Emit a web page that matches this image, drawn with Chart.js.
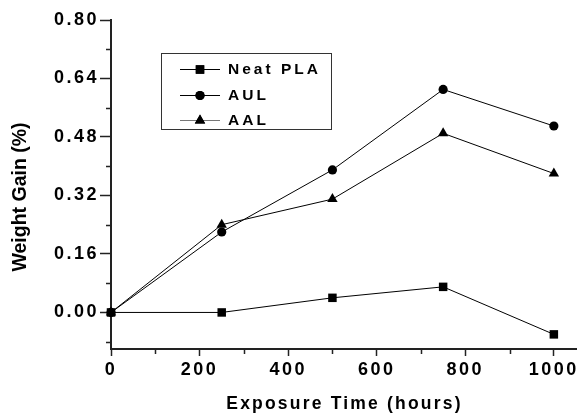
<!DOCTYPE html>
<html>
<head>
<meta charset="utf-8">
<script src="https://cdn.jsdelivr.net/npm/chart.js@4/dist/chart.umd.min.js"></script>
<style>
  html, body { margin: 0; padding: 0; background: #fff; }
  #wrap { width: 582px; height: 419px; position: relative; }
</style>
</head>
<body>
<div id="wrap"><canvas id="c" width="582" height="419"></canvas></div>
<script>
// Exposure time (hours) and weight gain (%) for each material
const hours   = [0, 250, 500, 750, 1000];
const neatPla = [0, 0, 0.04, 0.07, -0.06];
const aul     = [0, 0.22, 0.39, 0.61, 0.51];
const aal     = [0, 0.24, 0.31, 0.49, 0.38];

const seriesNames = ['Neat PLA', 'AUL', 'AAL'];
const xTicks = [0, 100, 200, 300, 400, 500, 600, 700, 800, 900, 1000];
const xLabelTicks = [0, 200, 400, 600, 800, 1000];
const yTicks = [-0.08, 0, 0.08, 0.16, 0.24, 0.32, 0.40, 0.48, 0.56, 0.64, 0.72, 0.80];
const yLabelTicks = [0, 0.16, 0.32, 0.48, 0.64, 0.80];
const xTitle = 'Exposure Time (hours)';
const yTitle = 'Weight Gain (%)';

const AXIS = '#222';
const FONT = '"Liberation Sans", Arial, sans-serif';

const isLabelled = (list, v) => list.some(t => Math.abs(t - v) < 1e-6);

function pts(vals) { return hours.map((h, i) => ({ x: h, y: vals[i] })); }

// Minor ticks, axis titles and the framed legend
const decorations = {
  id: 'decorations',
  beforeDraw(chart) {
    chart.ctx.letterSpacing = '2.5px';
  },
  afterDraw(chart) {
    const ctx = chart.ctx;
    const xs = chart.scales.x, ys = chart.scales.y;
    const area = chart.chartArea;
    ctx.save();
    ctx.letterSpacing = '0px';
    ctx.strokeStyle = AXIS;
    ctx.lineWidth = 1.5;
    // minor ticks
    ctx.beginPath();
    yTicks.forEach(v => {
      if (isLabelled(yLabelTicks, v)) return;
      const py = Math.round(ys.getPixelForValue(v)) + 0.5;
      ctx.moveTo(area.left - 5, py);
      ctx.lineTo(area.left, py);
    });
    xTicks.forEach(v => {
      if (isLabelled(xLabelTicks, v)) return;
      const px = Math.round(xs.getPixelForValue(v)) + 0.5;
      ctx.moveTo(px, area.bottom);
      ctx.lineTo(px, area.bottom + 5);
    });
    ctx.stroke();

    // axis titles
    ctx.fillStyle = '#000';
    ctx.font = 'bold 17.5px ' + FONT;
    ctx.letterSpacing = '2.2px';
    ctx.textAlign = 'center';
    ctx.textBaseline = 'alphabetic';
    ctx.fillText(xTitle, (area.left + area.right) / 2 + 1, 409);

    ctx.save();
    ctx.translate(21, 197);
    ctx.rotate(-Math.PI / 2);
    ctx.letterSpacing = '0px';
    ctx.font = 'bold 19.5px ' + FONT;
    ctx.textBaseline = 'middle';
    ctx.fillText(yTitle, 0, 0);
    ctx.restore();

    // legend box
    const bx = 161, by = 53, bw = 170, bh = 76;
    ctx.lineWidth = 1;
    ctx.strokeStyle = '#333';
    ctx.strokeRect(bx + 0.5, by + 0.5, bw, bh);
    const rowY = [69, 95, 120];
    ctx.font = 'bold 15.5px ' + FONT;
    ctx.letterSpacing = '3px';
    ctx.textAlign = 'left';
    ctx.textBaseline = 'middle';
    chart.data.datasets.forEach((ds, i) => {
      const y = rowY[i];
      ctx.strokeStyle = ds.legendLineColor;
      ctx.lineWidth = 1;
      ctx.beginPath();
      ctx.moveTo(180, y + 0.5);
      ctx.lineTo(220, y + 0.5);
      ctx.stroke();
      ctx.fillStyle = '#000';
      Chart.helpers.drawPoint(ctx, {
        pointStyle: ds.pointStyle,
        radius: ds.pointRadius,
        rotation: 0,
        borderWidth: 0
      }, 200, y + 0.5);
      ctx.fill();
      ctx.fillStyle = '#000';
      ctx.fillText(ds.label, 228, y + 1);
    });
    ctx.restore();
  }
};

const common = {
  borderColor: '#000',
  backgroundColor: '#000',
  pointBackgroundColor: '#000',
  pointBorderColor: '#000',
  borderWidth: 1,
  pointBorderWidth: 0,
  tension: 0,
  clip: false
};

new Chart(document.getElementById('c'), {
  type: 'line',
  data: {
    datasets: [
      Object.assign({}, common, { label: seriesNames[0], data: pts(neatPla), pointStyle: 'rect', pointRadius: 6, legendLineColor: '#000' }),
      Object.assign({}, common, { label: seriesNames[1], data: pts(aul), pointStyle: 'circle', pointRadius: 4.6, legendLineColor: '#000' }),
      Object.assign({}, common, { label: seriesNames[2], data: pts(aal), pointStyle: 'triangle', pointRadius: 6, legendLineColor: '#777' })
    ]
  },
  options: {
    responsive: false,
    animation: false,
    events: [],
    layout: { padding: { left: 0, right: 2, top: 20, bottom: 0 } },
    plugins: {
      legend: { display: false },
      tooltip: { enabled: false },
      title: { display: false }
    },
    scales: {
      x: {
        type: 'linear',
        min: 0,
        max: 1050,
        afterBuildTicks: s => { s.ticks = xTicks.map(v => ({ value: v })); },
        afterFit: s => { s.height = 70; s.paddingLeft = 0; s.paddingRight = 0; },
        grid: {
          drawOnChartArea: false,
          drawTicks: true,
          tickLength: 7,
          tickWidth: 1.5,
          tickColor: c => isLabelled(xLabelTicks, c.tick.value) ? AXIS : 'rgba(0,0,0,0)'
        },
        border: { display: true, color: AXIS, width: 2 },
        ticks: {
          autoSkip: false,
          maxRotation: 0,
          padding: 3,
          color: '#000',
          font: { family: FONT, size: 18, weight: 'bold' },
          callback: v => isLabelled(xLabelTicks, v) ? String(v) : ''
        },
        title: { display: false }
      },
      y: {
        type: 'linear',
        min: -0.1,
        max: 0.8,
        afterBuildTicks: s => { s.ticks = yTicks.map(v => ({ value: v })); },
        afterFit: s => { s.width = 111; s.paddingTop = 0; s.paddingBottom = 0; },
        grid: {
          drawOnChartArea: false,
          drawTicks: true,
          tickLength: 11,
          tickWidth: 1.5,
          tickColor: c => isLabelled(yLabelTicks, c.tick.value) ? AXIS : 'rgba(0,0,0,0)'
        },
        border: { display: true, color: AXIS, width: 2 },
        ticks: {
          autoSkip: false,
          padding: 1,
          color: '#000',
          font: { family: FONT, size: 18, weight: 'bold' },
          callback: v => isLabelled(yLabelTicks, v) ? v.toFixed(2) : ''
        },
        title: { display: false }
      }
    }
  },
  plugins: [decorations]
});
</script>
</body>
</html>
